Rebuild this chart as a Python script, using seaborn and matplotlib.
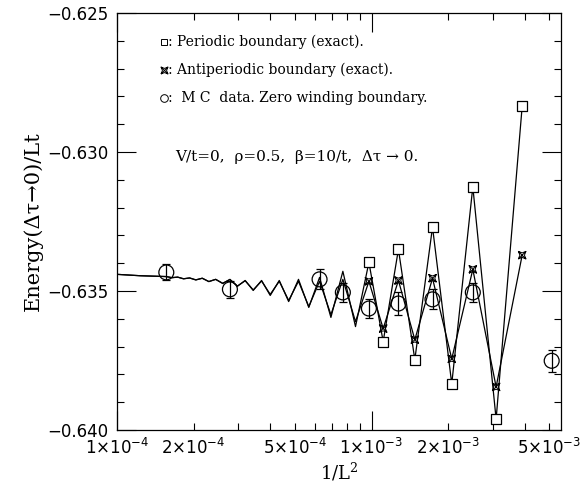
import numpy as np
import pandas as pd
import matplotlib
matplotlib.use("Agg")
import matplotlib.pyplot as plt
import seaborn as sns
from matplotlib.path import Path
from matplotlib.ticker import FixedLocator, FixedFormatter, NullFormatter

# ---------------- data ----------------
L_exact = [16, 18, 20, 22, 24, 26, 28, 30, 32, 34, 36, 38, 40, 42, 44, 46, 48, 50,
           52, 54, 56, 58, 60, 62, 64, 66, 68, 70, 72, 74, 76, 78, 80, 90, 100]
E_periodic = [-0.62836, -0.63961, -0.63125, -0.63834, -0.63270, -0.63747, -0.63350,
              -0.63682, -0.63397, -0.63628, -0.63429, -0.63595, -0.63451, -0.63559,
              -0.63458, -0.63538, -0.63462, -0.63516, -0.63462, -0.63498, -0.63462,
              -0.63483, -0.63458, -0.63473, -0.63458, -0.63466, -0.63454, -0.63460,
              -0.63453, -0.63456, -0.63450, -0.63452, -0.63448, -0.63445, -0.63440]
E_antiperiodic = [-0.63371, -0.63845, -0.63422, -0.63744, -0.63454, -0.63675, -0.63462,
                  -0.63635, -0.63465, -0.63610, -0.63458, -0.63585, -0.63465, -0.63556,
                  -0.63465, -0.63534, -0.63465, -0.63512, -0.63464, -0.63496, -0.63463,
                  -0.63482, -0.63459, -0.63472, -0.63458, -0.63466, -0.63454, -0.63460,
                  -0.63453, -0.63456, -0.63450, -0.63452, -0.63448, -0.63445, -0.63440]
L_marked_max = 32   # markers drawn for L <= 32

L_mc = [80, 60, 40, 36, 32, 28, 24, 20, 14]
E_mc = [-0.63433, -0.63494, -0.63458, -0.63505, -0.63563, -0.63545, -0.63530, -0.63505, -0.63751]
E_mc_err = [0.00029, 0.00031, 0.00036, 0.00034, 0.00033, 0.00040, 0.00036, 0.00033, 0.00040]

x_major = [1e-4, 1e-3]
x_minor = [2e-4, 3e-4, 4e-4, 5e-4, 6e-4, 7e-4, 8e-4, 9e-4, 2e-3, 3e-3, 4e-3, 5e-3]
x_major_labels = [r"$1{\times}10^{-4}$", r"$1{\times}10^{-3}$"]
x_minor_labels = [r"$2{\times}10^{-4}$", "", "", r"$5{\times}10^{-4}$", "", "", "", "",
                  r"$2{\times}10^{-3}$", "", "", r"$5{\times}10^{-3}$"]
y_major = [-0.640, -0.635, -0.630, -0.625]
y_major_labels = ["\u22120.640", "\u22120.635", "\u22120.630", "\u22120.625"]
y_minor = [-0.639, -0.638, -0.637, -0.636, -0.634, -0.633, -0.632, -0.631,
           -0.629, -0.628, -0.627, -0.626]

legend_texts = [": Periodic boundary (exact).",
                ": Antiperiodic boundary (exact).",
                ":  M C  data. Zero winding boundary."]
note_text = "V/t=0,  \u03c1=0.5,  \u03b2=10/t,  \u0394\u03c4 \u2192 0."
xlabel = r"1/L$^{\mathregular{2}}$"
ylabel = "Energy(\u0394\u03c4\u21920)/Lt"

# ---------------- frames ----------------
df = pd.DataFrame({"L": L_exact, "per": E_periodic, "anti": E_antiperiodic})
df["x"] = 1.0 / df["L"] ** 2
dmark = df[df["L"] <= L_marked_max]
dmc = pd.DataFrame({"L": L_mc, "E": E_mc, "err": E_mc_err})
dmc["x"] = 1.0 / dmc["L"] ** 2

# ---------------- style ----------------
sns.set_style("ticks")
plt.rcParams["font.family"] = ["DejaVu Sans"]
plt.rcParams["mathtext.fontset"] = "dejavusans"
plt.rcParams["axes.linewidth"] = 0.9
plt.rcParams["text.color"] = "black"
plt.rcParams["axes.labelcolor"] = "black"
plt.rcParams["xtick.color"] = "black"
plt.rcParams["ytick.color"] = "black"

fig = plt.figure(figsize=(5.84, 4.83), dpi=100)
ax = fig.add_axes([0.2003, 0.1097, 0.7603, 0.8633])
ax.set_xscale("log")

# custom antiperiodic marker: X inside a concave square
verts = [(-1, -1), (1, 1), (-1, 1), (1, -1),
         (-1, -1), (0, -0.6), (1, -1), (0.6, 0), (1, 1), (0, 0.6), (-1, 1), (-0.6, 0), (-1, -1)]
codes = [Path.MOVETO, Path.LINETO, Path.MOVETO, Path.LINETO,
         Path.MOVETO, Path.LINETO, Path.LINETO, Path.LINETO, Path.LINETO,
         Path.LINETO, Path.LINETO, Path.LINETO, Path.LINETO]
star = Path(verts, codes)

lw = 0.9
sns.lineplot(data=df, x="x", y="per", ax=ax, color="black", lw=lw, sort=False, estimator=None)
sns.lineplot(data=df, x="x", y="anti", ax=ax, color="black", lw=lw, sort=False, estimator=None)
sns.scatterplot(data=dmark, x="x", y="per", ax=ax, marker="s", s=60,
                facecolor="white", edgecolor="black", linewidth=0.9, zorder=4)
sns.scatterplot(data=dmark, x="x", y="anti", ax=ax, marker=star, s=30,
                facecolor="none", edgecolor="black", linewidth=0.7, zorder=5)
ax.errorbar(dmc["x"], dmc["E"], yerr=dmc["err"], fmt="none", ecolor="black",
            elinewidth=0.9, capsize=3.2, capthick=0.9, zorder=6)
sns.scatterplot(data=dmc, x="x", y="E", ax=ax, marker="o", s=115,
                facecolor="none", edgecolor="black", linewidth=0.9, zorder=6)

ax.set_xlim(1e-4, 5.55e-3)
ax.set_ylim(-0.640, -0.625)

# ticks
ax.xaxis.set_major_locator(FixedLocator(x_major))
ax.xaxis.set_major_formatter(FixedFormatter(x_major_labels))
ax.xaxis.set_minor_locator(FixedLocator(x_minor))
ax.xaxis.set_minor_formatter(FixedFormatter(x_minor_labels))
ax.yaxis.set_major_locator(FixedLocator(y_major))
ax.yaxis.set_major_formatter(FixedFormatter(y_major_labels))
ax.yaxis.set_minor_locator(FixedLocator(y_minor))
ax.yaxis.set_minor_formatter(NullFormatter())
ax.tick_params(which="both", direction="in", top=True, right=True, width=0.8,
               labelsize=12, pad=6, colors="black")
ax.tick_params(which="major", length=14)
ax.tick_params(which="minor", length=5)
for s in ax.spines.values():
    s.set_color("black")

ax.set_xlabel(xlabel, family="DejaVu Serif", fontsize=13, labelpad=2, color="black")
ax.set_ylabel(ylabel, family="DejaVu Serif", fontsize=15, labelpad=3, color="black")

# legend-like text block
ys = [0.930, 0.863, 0.796]
mk = ["s", star, "o"]
for yy, m, t in zip(ys, mk, legend_texts):
    ax.plot([0.105], [yy], transform=ax.transAxes, marker=m, ms=5 if m != "o" else 5.5,
            mfc="none", mec="black", mew=0.7, ls="none", clip_on=False)
    ax.text(0.116, yy, t, transform=ax.transAxes, family="DejaVu Serif", fontsize=10,
            va="center", ha="left", color="black")
ax.text(0.131, 0.655, note_text, transform=ax.transAxes, family="DejaVu Serif",
        fontsize=11, va="center", ha="left", color="black")

fig.savefig("out.png", dpi=100)
